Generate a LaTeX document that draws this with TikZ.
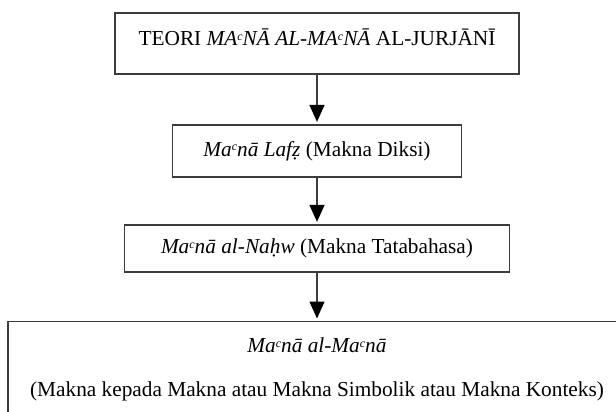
\documentclass[tikz,border=0pt]{standalone}
\usepackage{fontspec}
\setmainfont{Liberation Serif}
\usetikzlibrary{arrows.meta,positioning}
\definecolor{garis}{HTML}{3C3C3C}
\newcommand{\ayn}{\raisebox{0.55ex}{\fontsize{12}{12}\selectfont c}}
\tikzset{tahap/.style={draw=garis,line width=1.3pt,inner sep=0pt,
  font=\fontsize{21.3}{25.6}\selectfont,text height=15pt,text depth=5pt},
  panah/.style={-{Triangle[length=17pt,width=15pt,black]},line width=1.4pt,draw=garis,shorten >=2.5pt}}
\begin{document}
\begin{tikzpicture}[x=1pt,y=-1pt]
\useasboundingbox (0,0) rectangle (616,412);
\node[tahap,minimum width=404pt,minimum height=61pt,text height=15pt,text depth=10pt] (teori) at (317,43.5)
  {TEORI \textit{MA\ayn NĀ AL-MA\ayn NĀ} AL-JURJĀNĪ};
\node[tahap,minimum width=289pt,minimum height=52pt] (lafz) at (317,151)
  {\textit{Ma\ayn nā Lafẓ} (Makna Diksi)};
\node[tahap,minimum width=385pt,minimum height=47pt] (nahw) at (317,248.5)
  {\textit{Ma\ayn nā al-Naḥw} (Makna Tatabahasa)};
\node[tahap,anchor=north,minimum width=618pt,minimum height=96pt,text height=,text depth=,align=center] (maana) at (317,321)
  {\textit{Ma\ayn nā al-Ma\ayn nā}\\[18.4pt](Makna kepada Makna atau Makna Simbolik atau Makna Konteks)};
\draw[panah] (teori)--(lafz);\draw[panah] (lafz)--(nahw);\draw[panah] (nahw)--(maana);
\end{tikzpicture}
\end{document}
